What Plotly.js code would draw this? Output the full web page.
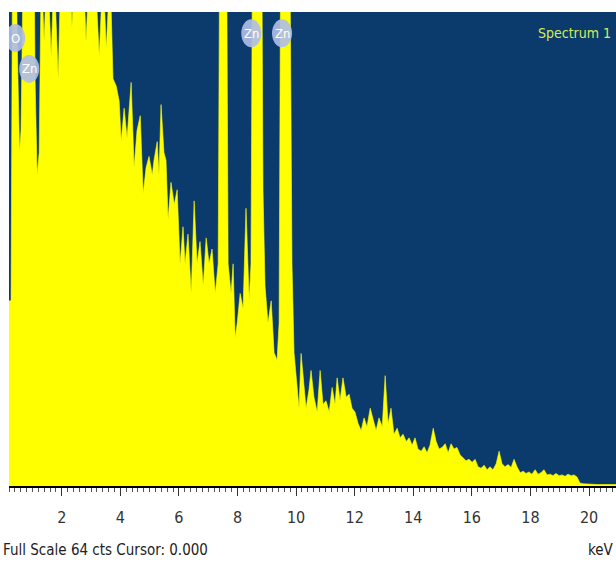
<!DOCTYPE html>
<html>
<head>
<meta charset="utf-8">
<script src="https://cdn.plot.ly/plotly-3.0.1.min.js"></script>
<style>
html,body{margin:0;padding:0;background:#fff;}
#chart{width:616px;height:562px;}
#chart svg text{font-stretch:condensed !important;}
</style>
</head>
<body>
<div id="chart"></div>
<script>
const energyKeV = [0.20,0.27,0.34,0.41,0.48,0.56,0.61,0.68,0.85,1.02,1.09,1.16,1.23,1.30,1.40,1.50,1.64,1.74,1.88,1.98,
2.12,2.22,2.35,2.46,2.56,2.70,2.83,2.94,3.04,3.17,3.28,3.41,3.52,3.65,3.75,3.86,3.96,4.03,4.13,4.23,
4.37,4.47,4.57,4.68,4.78,4.88,4.98,5.09,5.15,5.26,5.32,5.39,5.49,5.56,5.63,5.73,5.84,5.94,6.04,6.14,
6.21,6.31,6.42,6.52,6.62,6.72,6.83,6.93,7.03,7.13,7.24,7.34,7.41,7.51,7.61,7.68,7.78,7.85,7.92,7.99,
8.09,8.19,8.29,8.40,8.46,8.53,8.67,8.81,8.87,8.94,9.04,9.15,9.25,9.35,9.42,9.49,9.63,9.76,9.86,9.93,
10.03,10.10,10.17,10.27,10.34,10.44,10.51,10.61,10.72,10.82,10.92,11.02,11.13,11.23,11.33,11.40,11.50,11.60,11.71,11.81,
11.91,12.01,12.12,12.22,12.32,12.42,12.53,12.63,12.73,12.83,12.94,13.04,13.14,13.24,13.34,13.45,13.55,13.65,13.76,13.86,
13.96,14.06,14.16,14.27,14.37,14.47,14.57,14.68,14.78,14.88,14.98,15.09,15.19,15.29,15.39,15.49,15.60,15.70,15.80,15.90,
16.01,16.11,16.21,16.31,16.42,16.52,16.62,16.72,16.83,16.93,17.03,17.13,17.24,17.34,17.44,17.54,17.65,17.75,17.85,17.95,
18.05,18.16,18.26,18.36,18.46,18.57,18.67,18.77,18.87,18.98,19.08,19.18,19.28,19.39,19.49,19.59,19.69,19.80,20.30,20.92];
// Counts per channel (full scale 64 cts; peaks above 64 are clipped)
const counts = [25,25,90,90,60,45,48,90,120,90,55,42,45,70,60,72,58,70,55,72,
66,75,62,72,68,74,60,70,64,67,58,70,59,70,55,54,52,46.5,51,47,
54.5,43,48,50,39.5,43,44.5,42,44,46.5,42,51.5,45,44,36,41,38,40,30,35,
30,34,26,38.5,30,33,27,33.5,30,32,26,30,90,120,90,30,26,30,20,22,
26,24,37.5,25,30,90,150,90,40,27,22,25,18,17,22,90,150,90,30,18,
13.8,10.5,17.9,13,10.5,13,15.6,12,10,15.6,11,11.5,10,13.3,11,14.6,11.5,14.6,12,12.4,
10.5,10,8.4,7.5,9.2,8,10.5,9,7.5,9.2,8,14.9,8.4,10.5,7,7.8,6.5,7,6,6.5,
5.5,6.5,5,4.7,5.3,4.5,5.5,7.8,6,5,5.2,5.7,4.5,5.7,5,5.2,4.2,3.8,3.4,3.6,
3.2,3.6,2.6,2.4,2.8,2.2,2.6,2.2,3,4.7,3,2.6,2.9,2.5,3.6,2.6,1.8,2,1.7,1.9,
1.6,2.2,1.6,1.8,2.2,1.5,1.6,1.4,1.7,1.4,1.5,1.3,1.6,1.4,1.5,1.2,0.4,0.3,0.2,0.2];
// Element marker labels
const peakLabels = ["O","Zn","Zn","Zn"];
const peakLabelKeV = [0.41,0.89,8.47,9.52];
const peakLabelPaperY = [0.945,0.88,0.955,0.955];
const xTickVals = [2,4,6,8,10,12,14,16,18,20];

const navy = '#0b3a6c';
const narrow = '"Liberation Sans Narrow", "DejaVu Sans Condensed", "DejaVu Sans", Arial, sans-serif';

const trace = {
  x: energyKeV, y: counts, type: 'scatter', mode: 'lines',
  line: {color: '#ffff00', width: 0.6, shape: 'linear'},
  fill: 'tozeroy', fillcolor: '#ffff00', hoverinfo: 'skip'
};

const shapes = peakLabelKeV.map((e, i) => ({
  type: 'circle', xref: 'x', yref: 'paper', xsizemode: 'pixel', ysizemode: 'pixel',
  xanchor: e, yanchor: peakLabelPaperY[i], x0: -10, x1: 10, y0: -14, y1: 14,
  fillcolor: 'rgba(175,190,230,0.92)', line: {width: 0}, layer: 'above'
}));

const annotations = peakLabels.map((t, i) => ({
  text: t, x: peakLabelKeV[i], y: peakLabelPaperY[i], xref: 'x', yref: 'paper',
  showarrow: false, xanchor: 'center', yanchor: 'middle',
  font: {family: narrow, size: 13, color: '#ffffff'}
}));
annotations.push({
  text: 'Spectrum 1', xref: 'paper', yref: 'paper', x: 0.995, y: 0.955,
  xanchor: 'right', yanchor: 'middle', showarrow: false,
  font: {family: narrow, size: 14, color: '#d4ec5a'}
});
annotations.push({
  text: 'Full Scale 64 cts Cursor: 0.000', xref: 'paper', yref: 'paper', x: -0.013, y: -0.135,
  xanchor: 'left', yanchor: 'middle', showarrow: false,
  font: {family: narrow, size: 15, color: '#222222'}
});
annotations.push({
  text: 'keV', xref: 'paper', yref: 'paper', x: 1.0, y: -0.135,
  xanchor: 'right', yanchor: 'middle', showarrow: false,
  font: {family: narrow, size: 15, color: '#222222'}
});

const layout = {
  width: 616, height: 562,
  margin: {l: 9, r: 0, t: 12, b: 76, pad: 0},
  paper_bgcolor: '#ffffff', plot_bgcolor: navy,
  showlegend: false,
  xaxis: {
    range: [0.2, 20.92], showgrid: false, zeroline: false,
    showline: true, linecolor: '#000000', linewidth: 2,
    tickmode: 'array', tickvals: xTickVals, ticktext: xTickVals.map(String),
    ticks: 'outside', ticklen: 8, tickwidth: 1, tickcolor: '#333333',
    ticklabelstandoff: 8,
    minor: {dtick: 0.2, tick0: 0, ticks: 'outside', ticklen: 4, tickwidth: 1, tickcolor: '#555555', showgrid: false},
    tickfont: {family: narrow, size: 16, color: '#333333'},
    fixedrange: true
  },
  yaxis: {range: [0, 64], visible: false, fixedrange: true},
  shapes: shapes, annotations: annotations
};

Plotly.newPlot('chart', [trace], layout, {displayModeBar: false, staticPlot: true});
</script>
</body>
</html>
